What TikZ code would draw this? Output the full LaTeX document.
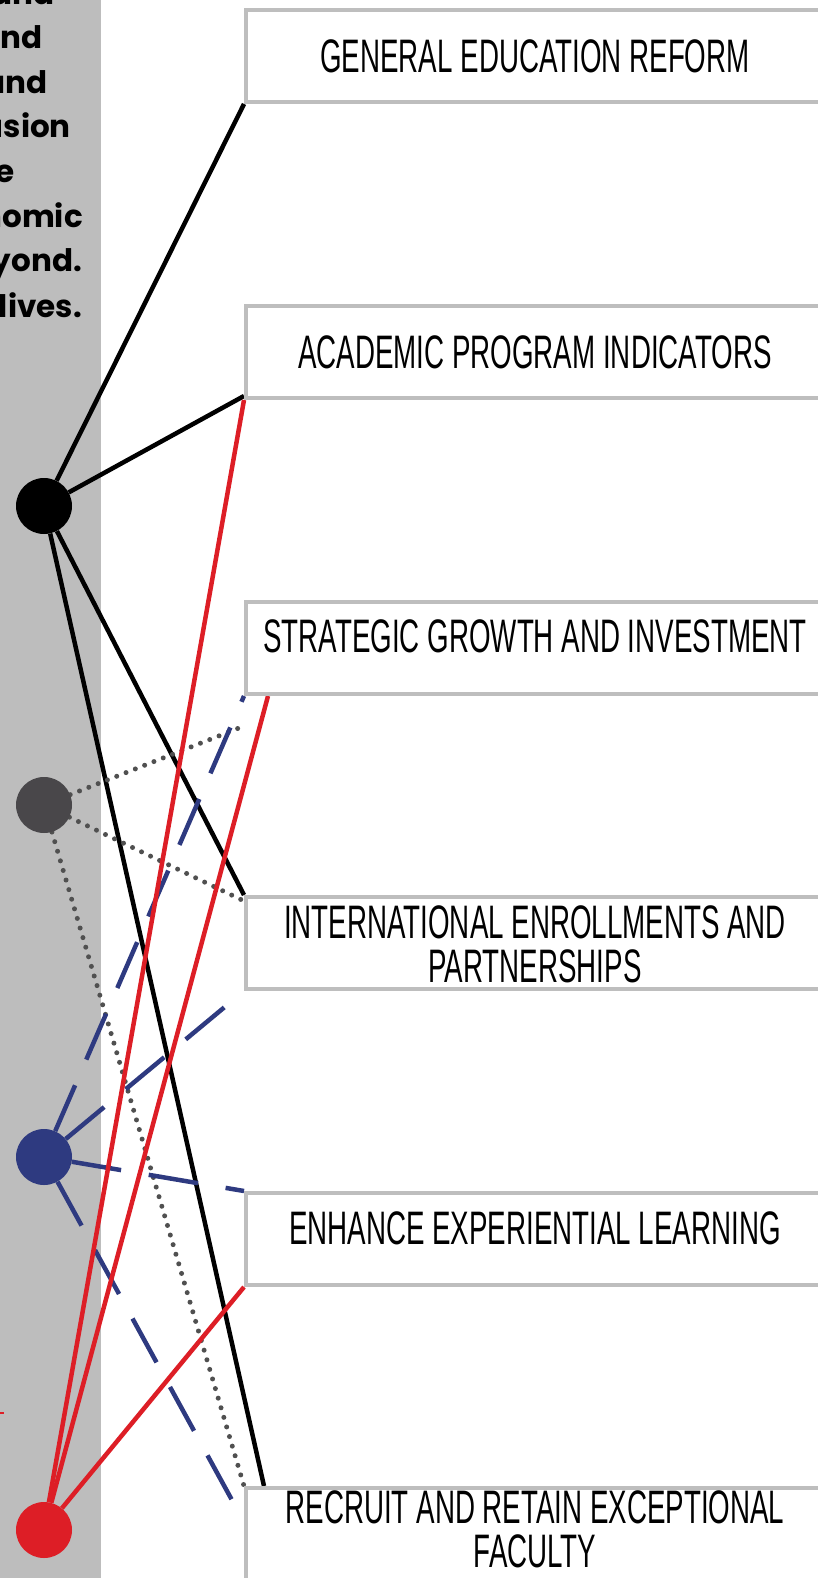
\documentclass[tikz,border=0pt]{standalone}
\usepackage{fontspec}
\usetikzlibrary{backgrounds}
\newfontfamily\boxfont{Liberation Sans}[FakeStretch=0.59]
\newfontfamily\sidefont{Poppins}
\definecolor{stripgray}{HTML}{BDBDBD}
\definecolor{boxgray}{HTML}{BEBEBE}
\definecolor{hubgray}{HTML}{49474A}
\definecolor{dotgray}{HTML}{505050}
\definecolor{linkblue}{HTML}{2E3A80}
\definecolor{linkred}{HTML}{DD1E26}
\tikzset{
  box/.style={draw=boxgray, line width=4pt, fill=white, minimum width=600pt, minimum height=92pt, anchor=north west, inner sep=0pt},
  lbl/.style={font=\boxfont\fontsize{47}{44}\selectfont, anchor=base, align=center, inner sep=0pt},
  hub/.style={circle, minimum size=56pt, inner sep=0pt},
  side/.style={font=\sidefont\bfseries\fontsize{31}{31}\selectfont, anchor=base east, inner sep=0pt},
  solidline/.style={line width=4.5pt},
  dotline/.style={line width=5pt, dash pattern=on 0pt off 10pt, line cap=round, dotgray},
  dashline/.style={line width=4.5pt, dash pattern=on 50pt off 28pt, linkblue}
}
\begin{document}
\begin{tikzpicture}[x = 1pt, y = -1pt]
  \useasboundingbox (0, 0) rectangle (818, 1578);
  \clip (0, 0) rectangle (818, 1578);
  % Side text
  \node[side] (s1) at (55, 5) {and};
  \node[side] (s2) at (43, 49) {nd};
  \node[side] (s3) at (48, 94) {and};
  \node[side] (s4) at (71, 138) {usion};
  \node[side] (s5) at (15, 183) {e};
  \node[side] (s6) at (83, 228) {nomic};
  \node[side] (s7) at (82, 272) {yond.};
  \node[side] (s8) at (82, 317) {lives.};

  % Hubs
  \node[hub, fill=black] (hubA) at (44, 506) {};
  \node[hub, fill=hubgray] (hubB) at (44, 805) {};
  \node[hub, fill=linkblue] (hubC) at (44, 1157) {};
  \node[hub, fill=linkred] (hubD) at (44, 1530) {};

  % Boxes
  \node[box] (gen) at (244, 8) {};
  \node[box] (acad) at (244, 304) {};
  \node[box] (strat) at (244, 600) {};
  \node[box] (intl) at (244, 895) {};
  \node[box] (exp) at (244, 1191) {};
  \node[box] (recr) at (244, 1486) {};

  \node[lbl] (genT) at (535, 72.5) {GENERAL EDUCATION REFORM};
  \node[lbl] (acadT) at (535, 368) {ACADEMIC PROGRAM INDICATORS};
  \node[lbl] (stratT) at (535, 652) {STRATEGIC GROWTH AND INVESTMENT};
  \node[lbl] (intlT) at (535, 982) {INTERNATIONAL ENROLLMENTS AND\\PARTNERSHIPS};
  \node[lbl] (expT) at (535, 1244) {ENHANCE EXPERIENTIAL LEARNING};
  \node[lbl] (recrT) at (535, 1567) {RECRUIT AND RETAIN EXCEPTIONAL\\FACULTY};

  % Ends
  \coordinate (acadA) at ([yshift=4pt]acad.south west);
  \coordinate (recrA) at ([xshift=20pt]recr.north west);
  \coordinate (stratB) at ([yshift=-30pt]strat.south west);
  \coordinate (intlB) at ([yshift=-6pt]intl.north west);
  \coordinate (recrC) at ([yshift=-36pt]recr.north west);
  \coordinate (stratD) at ([xshift=24pt]strat.south west);
  \coordinate (tick) at (0, 1413);

  \begin{scope}[on background layer]
    \fill[stripgray] (0, 0) rectangle (101, 1578);
    \draw[linkred, line width=2pt] (tick) -- ++(4, 0);

    % Edges
    \draw[solidline] (hubA) -- (gen.south west);
    \draw[solidline] (hubA) -- (acadA);
    \draw[solidline] (hubA) -- (intl.north west);
    \draw[solidline] (hubA) -- (recrA);

    \draw[dotline] (hubB) -- (stratB);
    \draw[dotline] (hubB) -- (intlB);
    \draw[dotline] (hubB) -- (recr.north west);

    \draw[dashline] (hubC) -- (strat.south west);
    \draw[dashline] (hubC) -- (intl.south west);
    \draw[dashline] (hubC) -- (exp.north west);
    \draw[dashline] (hubC) -- (recrC);

    \draw[solidline, linkred] (hubD) -- (acad.south west);
    \draw[solidline, linkred] (hubD) -- (stratD);
    \draw[solidline, linkred] (hubD) -- (exp.south west);
  \end{scope}
\end{tikzpicture}
\end{document}
